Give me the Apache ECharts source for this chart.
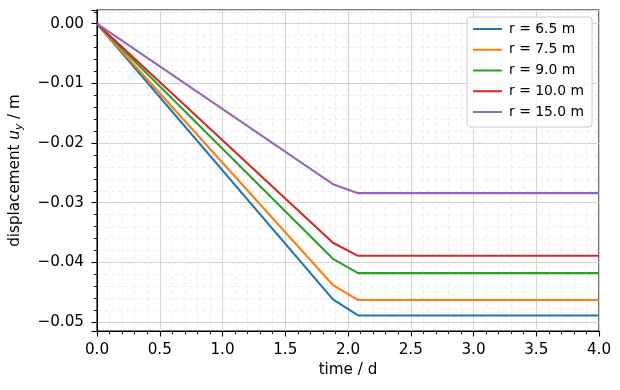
<!DOCTYPE html>
<html>
<head>
<meta charset="utf-8">
<script src="https://cdn.jsdelivr.net/npm/echarts@6/dist/echarts.min.js"></script>
<style>html,body{margin:0;padding:0;background:#fff}#c{width:620px;height:390px}</style>
</head>
<body>
<div id="c"></div>
<script>
const time = [0, 1.88, 2.08, 4.0];
const seriesNames = ['r = 6.5 m', 'r = 7.5 m', 'r = 9.0 m', 'r = 10.0 m', 'r = 15.0 m'];
const uy_r6_5  = [0, -0.0462, -0.0489, -0.0489];
const uy_r7_5  = [0, -0.0438, -0.0463, -0.0463];
const uy_r9_0  = [0, -0.0394, -0.0418, -0.0418];
const uy_r10_0 = [0, -0.0367, -0.0389, -0.0389];
const uy_r15_0 = [0, -0.0269, -0.0284, -0.0284];
const colors = ['#1f77b4', '#ff7f0e', '#2ca02c', '#d62728', '#9467bd'];
const allValues = [uy_r6_5, uy_r7_5, uy_r9_0, uy_r10_0, uy_r15_0];

const font = 'DejaVu Sans';
const fs = 15.2;
const chart = echarts.init(document.getElementById('c'), null, {renderer: 'canvas'});
const series = seriesNames.map((n, i) => ({
  name: n,
  type: 'line',
  data: time.map((t, j) => [t, allValues[i][j]]),
  showSymbol: false,
  symbol: 'none',
  lineStyle: {width: 2.1, color: colors[i]},
  itemStyle: {color: colors[i]},
  animation: false
}));

chart.setOption({
  animation: false,
  grid: {left: 97, right: 21, top: 10, bottom: 59, show: true, borderColor: '#000', borderWidth: 1.1, backgroundColor: 'transparent'},
  legend: {
    left: 467, top: 17, orient: 'vertical',
    itemWidth: 29, itemHeight: 14, itemGap: 6.75,
    padding: [5, 8, 8, 5],
    backgroundColor: 'rgba(255,255,255,0.8)',
    borderColor: '#cccccc', borderWidth: 1, borderRadius: 3,
    itemStyle: {opacity: 0},
    textStyle: {fontFamily: font, fontSize: 13.9, color: '#000', padding: [0, 0, 0, 2]},
    data: seriesNames
  },
  xAxis: {
    type: 'value', min: 0, max: 4, interval: 0.5,
    name: 'time / d', nameLocation: 'middle', nameGap: 32,
    nameTextStyle: {fontFamily: font, fontSize: fs, color: '#000'},
    axisLine: {show: true, onZero: false, lineStyle: {color: '#000', width: 1.1}},
    axisTick: {show: true, inside: false, length: 5.5, lineStyle: {color: '#000', width: 1.1}},
    minorTick: {show: true, splitNumber: 5, length: 3.2, lineStyle: {color: '#000', width: 0.9}},
    axisLabel: {fontFamily: font, fontSize: fs, color: '#000', margin: 12, formatter: v => v.toFixed(1)},
    splitLine: {show: true, lineStyle: {color: '#d3d3d3', width: 1}},
    minorSplitLine: {show: true, lineStyle: {color: '#eeeeee', width: 1, type: [4, 3]}}
  },
  yAxis: {
    type: 'value', min: -0.0515, max: 0.0023, splitNumber: 5,
    name: '{a|displacement }{i|u}{s|y}{a| / m}', nameLocation: 'middle', nameGap: 72,
    nameTextStyle: {
      fontFamily: font, fontSize: fs, color: '#000',
      rich: {
        a: {fontFamily: font, fontSize: fs, color: '#000'},
        i: {fontFamily: font, fontSize: fs, fontStyle: 'italic', color: '#000'},
        s: {fontFamily: font, fontSize: 10.6, fontStyle: 'italic', color: '#000', padding: [8, 0, 0, 0]}
      }
    },
    axisLine: {show: true, onZero: false, lineStyle: {color: '#000', width: 1.1}},
    axisTick: {show: true, inside: false, length: 5.5, lineStyle: {color: '#000', width: 1.1}},
    minorTick: {show: true, splitNumber: 5, length: 3.2, lineStyle: {color: '#000', width: 0.9}},
    axisLabel: {fontFamily: font, fontSize: fs, color: '#000', margin: 13, showMinLabel: false, showMaxLabel: false,
      formatter: v => (Math.abs(v) < 1e-9 ? 0 : v).toFixed(2).replace('-', '\u2212')},
    splitLine: {show: true, lineStyle: {color: '#d3d3d3', width: 1}},
    minorSplitLine: {show: true, lineStyle: {color: '#eeeeee', width: 1, type: [4, 3]}}
  },
  series: series
});
</script>
</body>
</html>
